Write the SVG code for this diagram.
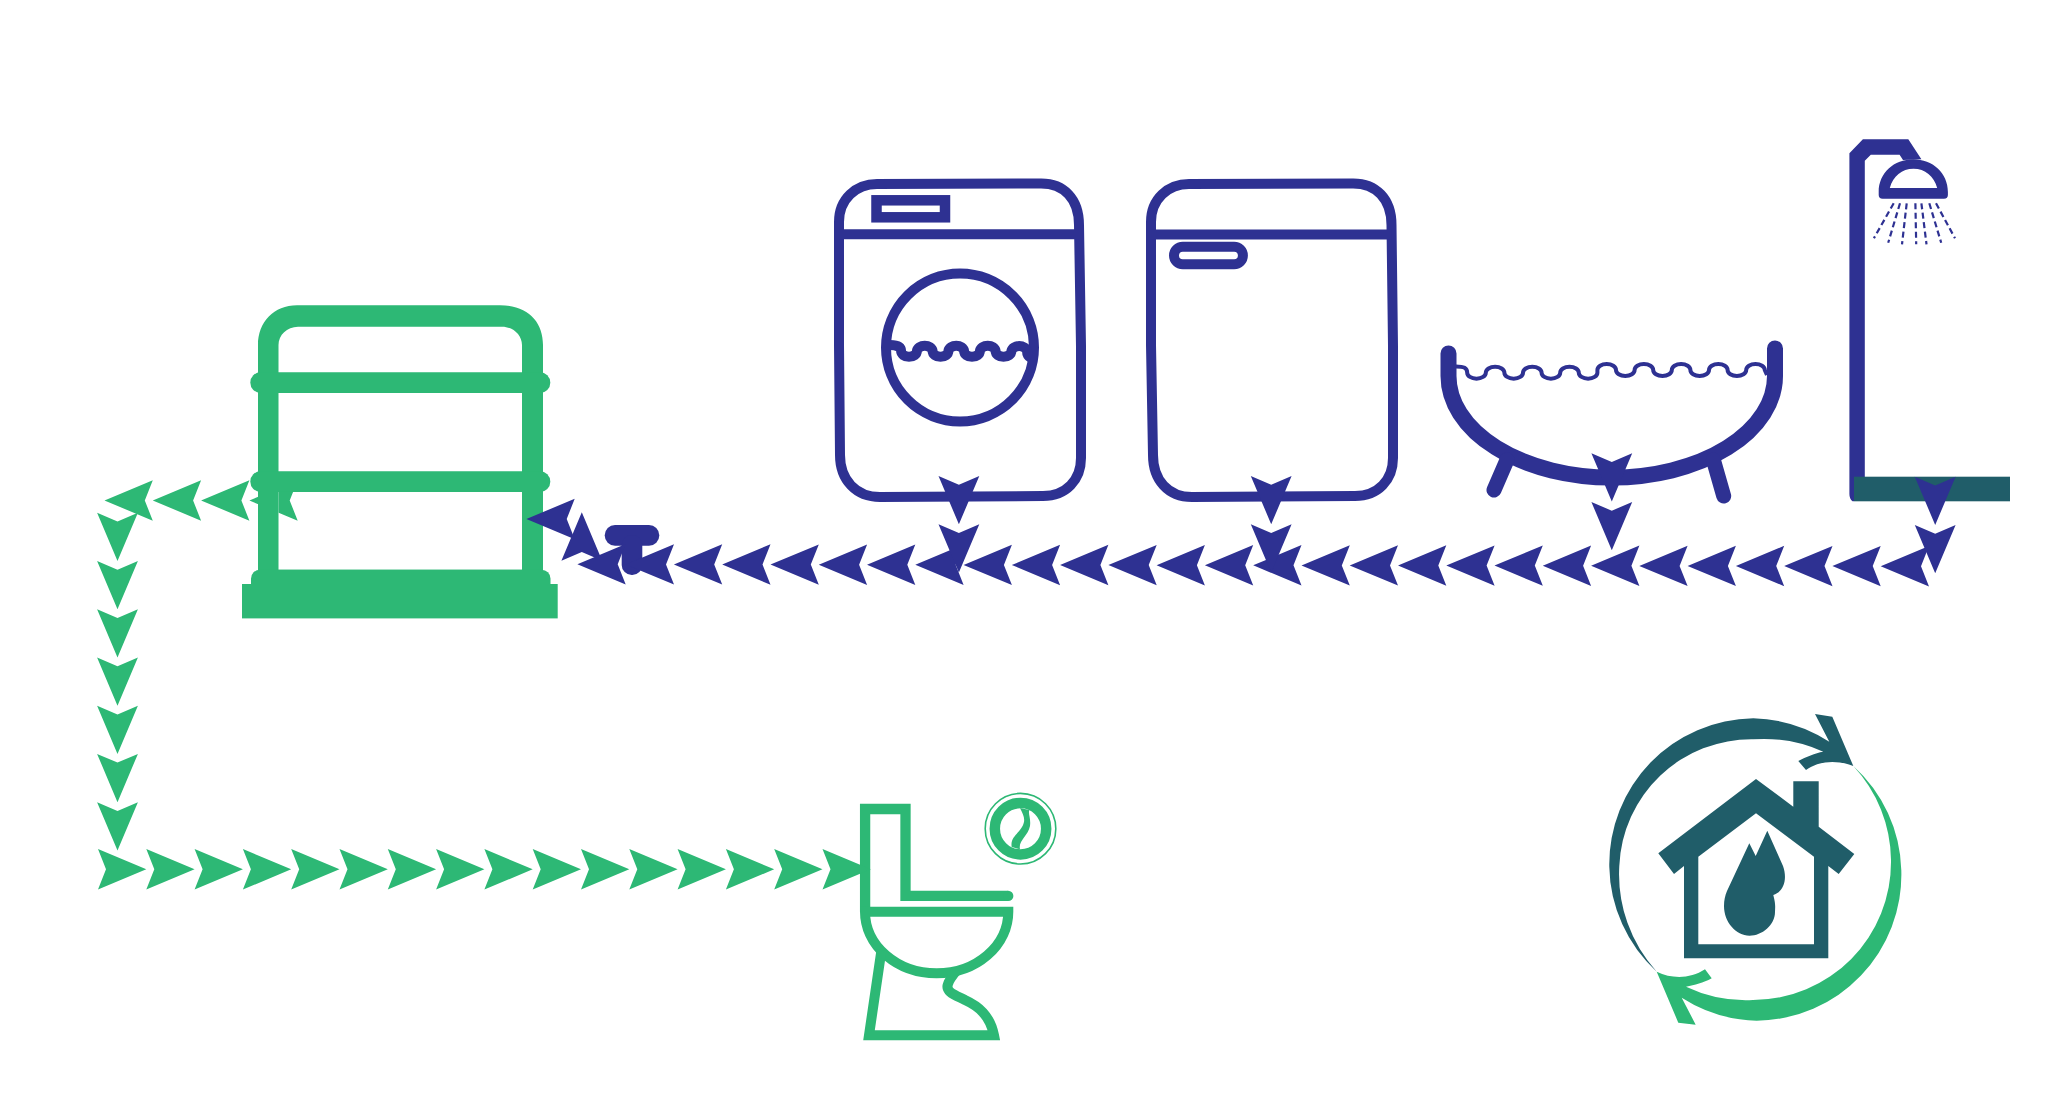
<svg xmlns="http://www.w3.org/2000/svg" width="2070" height="1112" viewBox="0 0 2070 1112">
<style>
.b{fill:#2e3192}.g{fill:#2db875}.t{fill:#205d69}
.bs{fill:none;stroke:#2e3192}.gs{fill:none;stroke:#2db875}
.w10{stroke-width:10}.round{stroke-linecap:round;stroke-linejoin:round}
</style>
<defs>
<polygon id="al" points="0,0 48.3,-20.2 40.3,0 48.3,20.2"/>
<polygon id="ar" points="0,-20.3 48.3,0 0,20.3 8,0"/>
<polygon id="ad" points="-20.4,0 0,8.7 20.4,0 0,48.3"/>
<polygon id="au" points="0,0 20.4,48.4 0,39.8 -20.4,48.4"/>
<clipPath id="behindBarrel"><path d="M240,470H258V530H240Z M278.5,491.7H310V530H278.5Z"/></clipPath>
</defs>
<rect width="2070" height="1112" fill="#ffffff"/>

<g id="rain-barrel">
<path class="g" fill-rule="evenodd" d="M258,345C258,322 274,305.3 297,305.3L500,305.3C528,305.3 543,322 543,345V570H258ZM278.5,345V569.7H522V345C522,335 513,326.7 502,326.7H298C287,326.7 278.5,335 278.5,345Z"/>
<rect class="g" x="250.3" y="372.3" width="300" height="20.7" rx="10.3"/>
<rect class="g" x="250.3" y="471.3" width="300" height="20.7" rx="10.3"/>
<rect class="g" x="251" y="569.7" width="299.5" height="30" rx="9"/>
<rect class="g" x="242" y="584" width="315.7" height="34.4"/>
</g>

<g id="faucet">
<rect class="b" x="604.7" y="525" width="54.6" height="20.7" rx="10.3"/>
<rect class="b" x="621.7" y="535" width="20.6" height="40" rx="10"/>
</g>

<g id="washing-machine">
<path class="bs w10" d="M839,222C839,199 856,184 877,184L1040,183.5C1064,183 1079,199 1079,225L1081,346V458C1081,480 1066,496 1043,496L880,497C856,497 840,480 840,455L839,345Z"/>
<path class="bs w10" d="M839,234.3H1079"/>
<rect class="bs" stroke-width="10.5" x="876.5" y="200.3" width="68.5" height="17"/>
<circle class="bs w10" cx="960" cy="347.5" r="74"/>
<path class="bs w10" d="M890,345Q901,345 901.1,351A7.9 5.85 0 0 0 916.9,351A7.9 5.85 0 0 1 932.6,351A7.9 5.85 0 0 0 948.4,351A7.9 5.85 0 0 1 964.1,351A7.9 5.85 0 0 0 979.9,351A7.9 5.85 0 0 1 995.6,351A7.9 5.85 0 0 0 1011.4,351A7.9 5.85 0 0 1 1027,351Q1027,356 1031,358"/>
</g>

<g id="dishwasher">
<path class="bs w10" d="M1151,222C1151,199 1168,184 1189,184L1352,183.5C1376,183 1391.5,199 1391.5,225L1393,346V458C1393,480 1378,496 1355,496L1192,497C1168,497 1153,480 1153,455L1151,345Z"/>
<path class="bs w10" d="M1151,234.6H1391.5"/>
<rect class="bs w10" x="1174" y="246.7" width="68.9" height="17.6" rx="8.8"/>
</g>

<g id="bathtub">
<path class="bs round" stroke-width="16" d="M1448.5,353.5V376A163.2 101.5 0 0 0 1775,376V348.5"/>
<path class="bs round" stroke-width="15" d="M1507,460L1494,490M1713.4,460L1723.7,496"/>
<path class="bs" stroke-width="4" d="M1456,366.5C1464,366.5 1467.2,368 1467.2,372.7A9.3 6 0 0 0 1485.8,372.7A9.3 6 0 0 1 1504.4,372.7A9.3 6 0 0 0 1523,372.7A9.3 6 0 0 1 1541.6,372.7A9.3 6 0 0 0 1560.2,372.7A9.3 6 0 0 1 1578.8,372.7A9.3 6 0 0 0 1597.4,372.7V370A9.3 6 0 0 1 1616,370A9.3 6 0 0 0 1634.6,370A9.3 6 0 0 1 1653.2,370A9.3 6 0 0 0 1671.8,370A9.3 6 0 0 1 1690.4,370A9.3 6 0 0 0 1709,370A9.3 6 0 0 1 1727.6,370A9.3 6 0 0 0 1746.2,370A9.3 6 0 0 1 1764.8,370L1767,375"/>
</g>

<g id="shower">
<path class="b" d="M1849.4,153.3L1862.9,139.3H1908.3L1921.4,159.3L1903,160L1899.6,154.7H1870.8L1864.8,160.7V482H1854V501.3H1852.5Q1849.4,499 1849.4,494Z"/>
<path class="b" fill-rule="evenodd" d="M1878.7,192C1878.7,173 1894,159.3 1913.3,159.3C1932.6,159.3 1947.9,173 1947.9,192V195Q1947.9,198.7 1944,198.7H1882.6Q1878.7,198.7 1878.7,195ZM1889.8,188H1937.2C1934,176 1925,168.7 1913.5,168.7C1902,168.7 1893,176 1889.8,188Z"/>
<path class="bs" stroke-width="2.2" stroke-dasharray="6 3.5" d="M1893.7,203.3L1873.9,238.3M1900,203.3L1888.2,242.7M1906.7,203.3L1902,244.3M1915.4,203.3L1916.2,244.3M1921.4,203.3L1926.5,244.3M1929.3,203.3L1941.2,242.7M1936,203.3L1955,238.3"/>
<rect class="t" x="1854" y="476.7" width="156" height="24.6"/>
</g>

<g id="toilet">
<path class="gs" stroke-width="10.3" d="M1008,895.9H905.5V809H865.1V911.7"/>
<circle class="g" cx="1008.2" cy="895.9" r="5.2"/>
<path class="gs w10" d="M865,911.7H1008.3A71.6 61.6 0 0 1 865,911.7Z"/>
<path class="gs w10" d="M881.5,950L869,1035.3H994C990,1015 978,1006 965,1000C955,995 945,992 948,984C949,980 953,975 957,970"/>
<circle class="gs" stroke-width="1.6" cx="1020.5" cy="828.7" r="35.3"/>
<circle class="gs" stroke-width="10.5" cx="1020.5" cy="828.7" r="25.7"/>
<path class="g" d="M1020,808C1024,816 1026,820 1022,827C1018,834 1010,838 1011.7,847L1020,849.3C1018,841 1028,836 1030,826C1031,818 1028,814 1029.3,810Z"/>
</g>

<g id="water-home">
<path class="g" d="M1853.3,766A146 146 0 0 1 1901.3,870A146 146 0 0 1 1756.7,1020.7A146 146 0 0 1 1681.7,997.7L1695.7,1024.7L1678.3,1022.7L1656.7,971.7C1672,979 1690,979 1705,969.3L1711.7,978.3C1703,983 1695,985 1686,986.7A140 140 0 0 0 1753,1000A138 138 0 0 0 1891,860A140 140 0 0 0 1853.3,766Z"/>
<path class="t" d="M1656.7,971.7A146 146 0 0 1 1609.3,866.7A146 146 0 0 1 1753.3,718.3A146 146 0 0 1 1829.3,741.7L1815,714L1832.3,716.7L1853.3,766C1838,760 1820,760 1806,770L1798.3,761C1806,757 1815,753 1823.3,751.7A145 145 0 0 0 1753,739.3A132 132 0 0 0 1619.3,866A145 145 0 0 0 1656.7,971.7Z"/>
<path class="t" fill-rule="evenodd" d="M1756,779L1793.3,806.7V781.3H1818.7V826.7L1854.3,854L1838.7,874L1828.3,866V958.3H1684V866L1674,874L1658.3,853.3ZM1756,813.3L1698.3,856.7V944.3H1814V856.7Z"/>
<path class="t" d="M1749.3,843.3L1755.7,856L1767.3,830.7L1783,866C1788,880 1783,892 1773.3,895C1776,905 1775,908 1775,912C1775,925 1762,935.7 1749.5,935.7C1736,935.7 1724,922 1724,906C1724,900 1725,896 1727,891Z"/>
</g>

<g id="connectors">
<g class="g">
<use href="#al" x="104.5" y="500.5"/><use href="#al" x="152.8" y="500.5"/><use href="#al" x="201.1" y="500.5"/><g clip-path="url(#behindBarrel)"><use href="#al" x="249.4" y="500.5"/></g>
<use href="#ad" x="117.5" y="512.7"/><use href="#ad" x="117.5" y="561"/><use href="#ad" x="117.5" y="609.2"/><use href="#ad" x="117.5" y="657.5"/><use href="#ad" x="117.5" y="705.7"/><use href="#ad" x="117.5" y="753.9"/><use href="#ad" x="117.5" y="802.2"/>
<use href="#ar" x="98" y="869.3"/><use href="#ar" x="146.3" y="869.3"/><use href="#ar" x="194.6" y="869.3"/><use href="#ar" x="242.9" y="869.3"/><use href="#ar" x="291.2" y="869.3"/><use href="#ar" x="339.5" y="869.3"/><use href="#ar" x="387.8" y="869.3"/><use href="#ar" x="436.1" y="869.3"/><use href="#ar" x="484.4" y="869.3"/><use href="#ar" x="532.7" y="869.3"/><use href="#ar" x="581" y="869.3"/><use href="#ar" x="629.3" y="869.3"/><use href="#ar" x="677.6" y="869.3"/><use href="#ar" x="725.9" y="869.3"/><use href="#ar" x="774.2" y="869.3"/><use href="#ar" x="822.5" y="869.3"/>
</g>
<g class="b">
<use href="#al" x="526.4" y="519"/><use href="#au" x="581.8" y="512.3"/>
<use href="#al" x="577.4" y="564.3"/><use href="#al" x="625.7" y="564.4"/><use href="#al" x="673.9" y="564.4"/><use href="#al" x="722.2" y="564.5"/><use href="#al" x="770.5" y="564.6"/><use href="#al" x="818.8" y="564.7"/><use href="#al" x="867" y="564.7"/><use href="#al" x="915.3" y="564.8"/><use href="#al" x="963.6" y="564.9"/><use href="#al" x="1011.8" y="565"/><use href="#al" x="1060.1" y="565"/><use href="#al" x="1108.4" y="565.1"/><use href="#al" x="1156.6" y="565.2"/><use href="#al" x="1204.9" y="565.2"/><use href="#al" x="1253.2" y="565.3"/><use href="#al" x="1301.5" y="565.4"/><use href="#al" x="1349.7" y="565.4"/><use href="#al" x="1398" y="565.5"/><use href="#al" x="1446.3" y="565.6"/><use href="#al" x="1494.5" y="565.6"/><use href="#al" x="1542.8" y="565.7"/><use href="#al" x="1591.1" y="565.8"/><use href="#al" x="1639.3" y="565.9"/><use href="#al" x="1687.6" y="565.9"/><use href="#al" x="1735.9" y="566"/><use href="#al" x="1784.2" y="566.1"/><use href="#al" x="1832.4" y="566.1"/><use href="#al" x="1880.7" y="566.2"/>
<use href="#ad" x="958.9" y="476"/><use href="#ad" x="958.9" y="524.3"/>
<use href="#ad" x="1271.2" y="476"/><use href="#ad" x="1271.2" y="524.3"/>
<use href="#ad" x="1611.8" y="453.3"/><use href="#ad" x="1611.8" y="502"/>
<use href="#ad" x="1935.2" y="476.7"/><use href="#ad" x="1935.2" y="525"/>
</g>
</g>
</svg>
